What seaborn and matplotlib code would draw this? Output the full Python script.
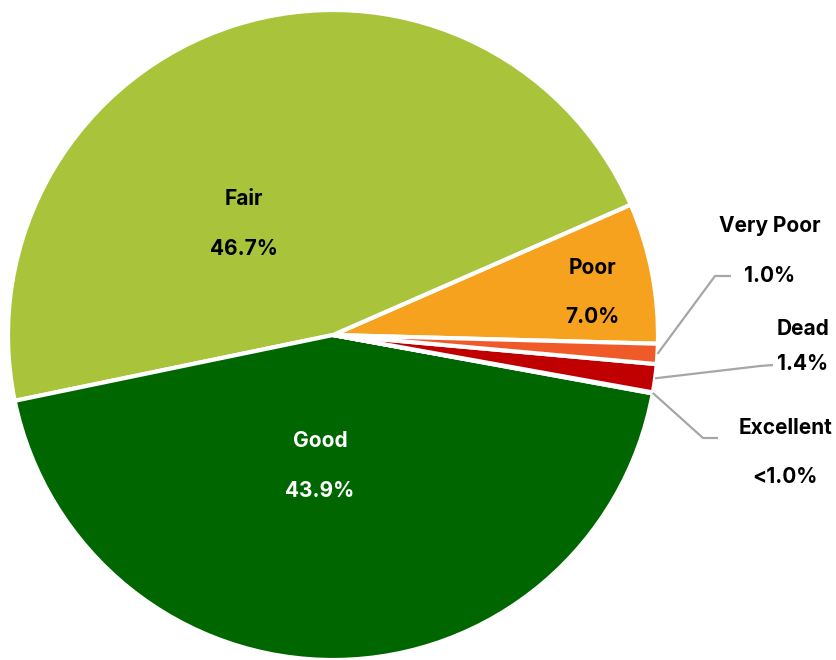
import numpy as np
import matplotlib
matplotlib.use("Agg")
import matplotlib.pyplot as plt
import seaborn as sns

# Tree condition shares (percent), counter-clockwise from "Poor"
categories = ["Poor", "Fair", "Good", "Excellent", "Dead", "Very Poor"]
shares = [7.0, 46.7, 43.9, 0.05, 1.4, 1.0]
value_labels = ["7.0%", "46.7%", "43.9%", "<1.0%", "1.4%", "1.0%"]
colors = ["#F7A21E", "#A9C33B", "#006600", "#00B050", "#C00000", "#F05A28"]

sns.set_theme(style="white")
plt.rcParams["font.family"] = ["Inter", "DejaVu Sans"]

W, H = 836, 660
fig = plt.figure(figsize=(W / 100, H / 100), dpi=100)
ax = fig.add_axes([0, 0, 1, 1])
ax.set_xlim(0, W)
ax.set_ylim(0, H)
ax.set_aspect("equal")
ax.axis("off")

cx, cy, R = 333, H - 335, 325

wedges, _ = ax.pie(
    shares, colors=colors, startangle=-1.54, counterclock=True,
    center=(cx, cy), radius=R,
    wedgeprops=dict(edgecolor="white", linewidth=3, antialiased=True),
)
ax.set_xlim(0, W)
ax.set_ylim(0, H)

def px(x, y):
    return x, H - y

fs = 15
# labels placed inside the large slices: x, name_y, pct_y, color
inside = {
    "Fair": (244, 199, 249, "black"),
    "Good": (320, 441, 491, "white"),
    "Poor": (592, 268, 317, "black"),
}
# labels outside for the thin slices
outside = {
    "Very Poor": (770, 226, 276),
    "Dead": (803, 329, 364),
    "Excellent": (785, 428, 477),
}

for name, (x, y1, y2, col) in inside.items():
    i = categories.index(name)
    ax.text(*px(x, y1), name, ha="center", va="center", fontsize=fs,
            fontweight="bold", color=col)
    ax.text(*px(x, y2), value_labels[i], ha="center", va="center", fontsize=fs,
            fontweight="bold", color=col)

for name, (x, y1, y2) in outside.items():
    i = categories.index(name)
    ax.text(*px(x, y1), name, ha="center", va="center", fontsize=fs,
            fontweight="bold", color="black")
    ax.text(*px(x, y2), value_labels[i], ha="center", va="center", fontsize=fs,
            fontweight="bold", color="black")

# leader lines from each thin wedge's outer midpoint to its label
leader_bends = {
    "Very Poor": [(715, 276), (731, 276)],
    "Dead": [(760, 366), (773, 365)],
    "Excellent": [(703, 438), (718, 438)],
}
for name, pts in leader_bends.items():
    w = wedges[categories.index(name)]
    mid = np.deg2rad((w.theta1 + w.theta2) / 2)
    sx, sy = cx + R * np.cos(mid), cy + R * np.sin(mid)
    xs = [sx] + [p[0] for p in pts]
    ys = [sy] + [H - p[1] for p in pts]
    ax.plot(xs, ys, color="#A6A6A6", linewidth=1.6, solid_capstyle="butt")

fig.savefig("out.png", dpi=100, facecolor="white")
